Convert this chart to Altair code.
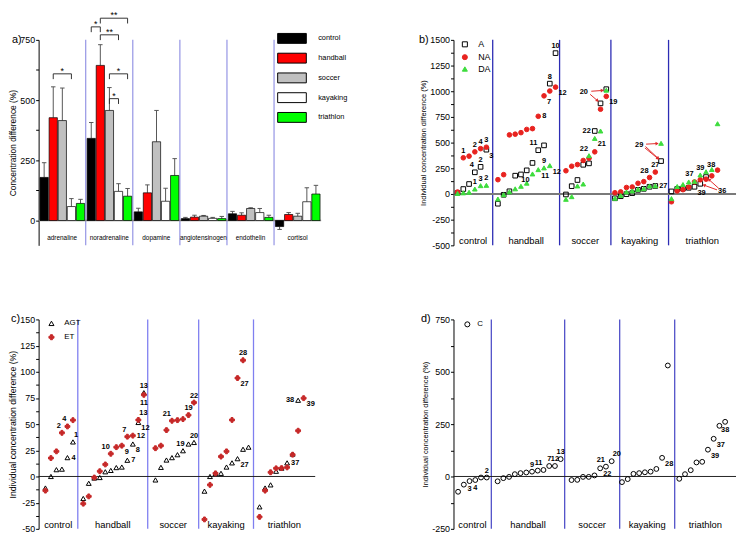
import math
import altair as alt
import pandas as pd

FONT = "Liberation Sans"

# ---------------- a) group means and SD (%) ----------------
A_CATS = ["adrenaline", "noradrenaline", "dopamine", "angiotensinogen", "endothelin", "cortisol"]
A_GROUPS = ["control", "handball", "soccer", "kayaking", "triathlon"]
A_MEAN = {
    "control":   [179, 341, 36, 8, 28, -25],
    "handball":  [427, 644, 115, 14, 22, 25],
    "soccer":    [415, 457, 327, 18, 50, 18],
    "kayaking":  [58, 121, 80, 9, 33, 78],
    "triathlon": [71, 101, 187, 8, 13, 110],
}
A_SD = {
    "control":   [61, 66, 15, 5, 10, 12],
    "handball":  [128, 86, 33, 8, 10, 8],
    "soccer":    [135, 95, 130, 3, 3, 12],
    "kayaking":  [33, 32, 54, 4, 17, 58],
    "triathlon": [17, 32, 70, 9, 9, 36],
}
A_BRACKETS = [
    ("adrenaline", "handball", "kayaking", 609, "*"),
    ("noradrenaline", "control", "handball", 804, "*"),
    ("noradrenaline", "handball", "triathlon", 840, "**"),
    ("noradrenaline", "handball", "kayaking", 771, "**"),
    ("noradrenaline", "soccer", "triathlon", 609, "*"),
    ("noradrenaline", "soccer", "kayaking", 506, "*"),
]

# ---------------- b) individual A / NA / DA ----------------
GROUP_NAMES = ["control", "handball", "soccer", "kayaking", "triathlon"]
B_A = [
    [10, 48, 97, 211, 264, 431],
    [-95, -8, 26, 178, 190, 230, 302, 426, 473, 1074, 1371],
    [-5, 76, 136, 284, 298, 613, 882, 1020],
    [-42, -22, -2, 8, 40, 50, 70, 78, 320],
    [25, 49, 52, 60, 70, 99, 165],
]
B_NA = [
    [19, 352, 368, 410, 441, 455],
    [139, 188, 575, 582, 597, 628, 636, 756, 955, 1002, 1040],
    [226, 270, 286, 326, 348, 410, 825, 950],
    [12, 20, 63, 68, 104, 120, 160, 213],
    [-76, 30, 42, 67, 117, 138, 144, 176, 232],
]
B_DA = [
    [5, 11, 17, 48, 81, 84],
    [-49, -7, 21, 50, 75, 105, 195, 237, 254, 276],
    [-52, -26, 78, 97, 373, 541, 613, 1010],
    [-42, -15, 20, 30, 45, 52, 78, 80, 493],
    [-45, 73, 92, 117, 123, 185, 216, 238, 684],
]
B_NOTES = [
    ("NA", 0, 1, "1", "a"), ("NA", 0, 3, "2", "a"), ("NA", 0, 4, "4", "a"), ("NA", 0, 5, "3", "a"),
    ("A", 0, 3, "4", "al"), ("A", 0, 4, "2", "a"), ("A", 0, 5, "3", "br"),
    ("DA", 0, 3, "1", "a"), ("DA", 0, 4, "3", "a"), ("DA", 0, 5, "2", "a"),
    ("A", 1, 7, "11", "al"), ("A", 1, 9, "8", "a"), ("A", 1, 10, "10", "a"),
    ("NA", 1, 7, "8", "r"), ("NA", 1, 8, "7", "br"), ("NA", 1, 10, "12", "br"),
    ("DA", 1, 6, "10", "bl"), ("DA", 1, 7, "11", "br"), ("DA", 1, 8, "9", "a"), ("DA", 1, 9, "12", "br"),
    ("NA", 2, 7, "19", "br"), ("A", 2, 5, "22", "l"), ("DA", 2, 5, "21", "br"), ("DA", 2, 4, "22", "al"),
    ("NA", 3, 6, "28", "al"), ("NA", 3, 7, "27", "a"), ("DA", 3, 7, "27", "r"),
    ("DA", 4, 4, "37", "al"), ("DA", 4, 5, "39", "a"), ("DA", 4, 6, "38", "ar"), ("A", 4, 4, "39", "br"),
]
# arrows: (label, label x, label y, arrow start x, start y, target series, group, index)
B_ARROWS = [
    ("20", 22.6, 995, 23.9, 1000, "DA", 2, 7),
    ("20", 22.6, 995, 23.7, 970, "A", 2, 6),
    ("29", 32.2, 472, 33.4, 485, "DA", 3, 8),
    ("29", 32.2, 472, 33.3, 462, "A", 3, 8),
    ("29", 32.2, 472, 33.2, 448, "A", 3, 8),
    ("36", 46.6, 24, 45.7, 40, "A", 4, 5),
    ("36", 46.6, 24, 46.0, 55, "A", 4, 6),
]

# ---------------- c) individual AGT / ET ----------------
C_AGT = [
    [-11, 0, 6.5, 7, 18, 33],
    [-21, -6.5, -1.5, -1, 4.5, 5.8, 8.5, 9, 15.5, 31, 51.6, 80],
    [-3.3, 8.7, 15.7, 18, 20.8, 24.6, 31, 32.5],
    [-14, 0, 3, 3, 9, 13, 17, 26, 28],
    [-29, -11, -8, 5, 8, 13, 21.4, 72.8],
]
C_ET = [
    [-13.5, 17.6, 24, 41.7, 47.8, 53.8],
    [-26, -19, -1, 5, 11.5, 21.7, 28, 29.4, 38, 39, 54, 78],
    [27, 29.4, 44.3, 53.2, 53.8, 54.8, 58.6, 70.6],
    [-41, -8, 3, 19, 24, 54, 94, 111],
    [-38.6, -13.5, 4, 7.8, 8, 8.7, 20.8, 43.7, 74.8],
]
C_NOTES = [
    ("ET", 0, 3, "2", "al"), ("ET", 0, 4, "4", "al"), ("AGT", 0, 5, "1", "ar"), ("AGT", 0, 4, "4", "r"),
    ("ET", 1, 5, "10", "al"), ("ET", 1, 7, "9", "br"), ("ET", 1, 8, "7", "al"), ("ET", 1, 9, "12", "r"),
    ("AGT", 1, 9, "8", "br"), ("AGT", 1, 8, "7", "r"), ("ET", 1, 10, "13", "ar"), ("AGT", 1, 10, "12", "br"),
    ("AGT", 1, 11, "13", "a"), ("ET", 1, 11, "11", "b"),
    ("ET", 2, 3, "21", "al"), ("ET", 2, 6, "19", "a"), ("ET", 2, 7, "22", "a"),
    ("AGT", 2, 6, "19", "l"), ("AGT", 2, 7, "20", "a"),
    ("ET", 3, 7, "28", "a"), ("ET", 3, 6, "27", "br"), ("AGT", 3, 6, "27", "br"),
    ("AGT", 4, 7, "38", "l"), ("ET", 4, 8, "39", "br"), ("AGT", 4, 5, "37", "r"),
]

# ---------------- d) individual C ----------------
D_C = [
    [-73, -39, -22, -17, -5, -5],
    [-23, -8, -2, 11, 16, 19, 23, 28, 31, 50, 50, 83],
    [-17, -16, -2, -2, 5, 39, 47, 73],
    [-27, -12.5, 12.5, 16, 20, 23, 36, 89, 530],
    [-11, 11, 30, 67, 70, 128, 180, 242, 261],
]
D_NOTES = [
    ("C", 0, 2, "3", "b"), ("C", 0, 3, "4", "b"), ("C", 0, 5, "2", "a"),
    ("C", 1, 6, "9", "a"), ("C", 1, 8, "11", "al"), ("C", 1, 9, "7", "a"), ("C", 1, 10, "12", "a"),
    ("C", 1, 11, "13", "a"),
    ("C", 2, 6, "21", "al"), ("C", 2, 7, "20", "ar"), ("C", 2, 5, "22", "br"),
    ("C", 3, 7, "28", "br"),
    ("C", 4, 5, "39", "br"), ("C", 4, 6, "37", "br"), ("C", 4, 8, "38", "b"),
]

# ---------------- layout constants ----------------
A_W, A_H = 286, 208
B_W, B_H = 286, 208
C_W, C_H = 280, 212
D_W, D_H = 286, 212
B_START, B_SEP, B_XMAX = [0.7, 7.7, 19.5, 28.0, 37.8], [6.8, 18.4, 27.3, 37.3], 49.0
C_START, C_SEP, C_XMAX = [1.23, 8.1, 21.2, 30.1, 40.1], [7.11, 19.8, 29.05, 39.0], 50.2
D_START, D_SEP, D_XMAX = [0.8, 7.7, 20.6, 29.4, 39.4], [6.6, 19.4, 29.0, 38.6], 49.3

POS = {
    "a": dict(dx=0, dy=-7, align="center"),
    "al": dict(dx=-1, dy=-7, align="right"),
    "ar": dict(dx=1, dy=-7, align="left"),
    "r": dict(dx=4, dy=0, align="left"),
    "br": dict(dx=3, dy=6, align="left"),
    "bl": dict(dx=-3, dy=6, align="right"),
    "b": dict(dx=0, dy=8, align="center"),
    "l": dict(dx=-4, dy=0, align="right"),
}


def lin(lo, hi):
    return alt.Scale(domain=[lo, hi], nice=False, zero=False)


def y_axis(title, lo, hi, step, every, tsize):
    vals = []
    v = lo
    while v <= hi + 1e-9:
        vals.append(v)
        v += step
    return alt.Axis(title=title, values=vals,
                    labelExpr=f"datum.value % {every} == 0 ? '' + datum.value : ''",
                    labelFontSize=9, titleFontSize=tsize, labelOverlap=False,
                    tickSize=3, labelPadding=1, titlePadding=2)


def points_df(series_map, starts):
    rows = []
    for s, groups in series_map.items():
        for g, vals in enumerate(groups):
            for i, v in enumerate(vals):
                rows.append({"series": s, "g": g, "i": i, "x": starts[g] + i, "y": v})
    return pd.DataFrame(rows)


def lookup(pts, s, g, i):
    r = pts[(pts.series == s) & (pts.g == g) & (pts.i == i)].iloc[0]
    return float(r.x), float(r.y)


def notes_layers(notes, pts, xs, ys, yax):
    rows = []
    for s, g, i, t, p in notes:
        x, y = lookup(pts, s, g, i)
        rows.append({"x": x, "y": y, "text": t, "pos": p})
    ndf = pd.DataFrame(rows)
    layers = []
    for p, kw in POS.items():
        sub = ndf[ndf.pos == p]
        if len(sub) == 0:
            continue
        layers.append(alt.Chart(sub).mark_text(baseline="middle", fontSize=7.5, fontWeight="bold",
                                               font=FONT, color="black", **kw).encode(
            x=alt.X("x:Q", scale=xs, axis=None), y=alt.Y("y:Q", scale=ys, axis=yax), text="text:N"))
    return layers


def frame_layers(seps, xmax, ylab, xs, ys, yax, sep_color, zero_color, zero_w, tag, tag_dx):
    bounds = [0] + seps + [xmax]
    mids = [(bounds[k] + bounds[k + 1]) / 2 for k in range(5)]
    sep = alt.Chart(pd.DataFrame({"x": seps})).mark_rule(color=sep_color, strokeWidth=1.3).encode(
        x=alt.X("x:Q", scale=xs, axis=None))
    zero = alt.Chart(pd.DataFrame({"y": [0]})).mark_rule(color=zero_color, strokeWidth=zero_w).encode(
        y=alt.Y("y:Q", scale=ys, axis=yax))
    cats = alt.Chart(pd.DataFrame({"x": mids, "y": [ylab] * 5, "t": GROUP_NAMES})).mark_text(
        fontSize=9.5, font=FONT, color="black", baseline="middle").encode(
        x=alt.X("x:Q", scale=xs, axis=None), y=alt.Y("y:Q", scale=ys, axis=yax), text="t:N")
    lab = alt.Chart(pd.DataFrame({"t": [tag]})).mark_text(
        x=tag_dx, y=0, align="left", baseline="middle", fontSize=11, font=FONT, color="black").encode(text="t:N")
    return [sep, zero], [cats, lab]


def small_legend(lx, ly, fsize, loff, rpad):
    return alt.Legend(title=None, orient="none", legendX=lx, legendY=ly, labelFontSize=fsize,
                      labelOffset=loff, rowPadding=rpad, padding=0, symbolSize=26, symbolStrokeWidth=1)


# ================= panel a =================
xs_a = lin(0, 6)
ys_a = lin(-103, 750)
yax_a = y_axis("Concentration difference (%)", 0, 750, 125, 250, 8.5)

rows = []
for g, cat in enumerate(A_CATS):
    for j, grp in enumerate(A_GROUPS):
        m = A_MEAN[grp][g]
        s = A_SD[grp][g]
        left = g + 0.03 + j * 0.193
        rows.append(dict(cat=cat, group=grp, x=left, x2=left + 0.175, xc=left + 0.0875,
                         cl=left + 0.04, cr=left + 0.135, y=m, y0=0, e=m + (s if m >= 0 else -s)))
bars = pd.DataFrame(rows)

hb, lg, st = [], [], []
for cat, g1, g2, lv, t in A_BRACKETS:
    c1 = bars[(bars.cat == cat) & (bars.group == g1)].xc.iloc[0]
    c2 = bars[(bars.cat == cat) & (bars.group == g2)].xc.iloc[0]
    hb.append(dict(x1=c1, x2=c2, lv=lv))
    lg.append(dict(x=c1, lv=lv, lo=lv - 22))
    lg.append(dict(x=c2, lv=lv, lo=lv - 22))
    st.append(dict(x=(c1 + c2) / 2, lv=lv, t=t))

leg_a = alt.Legend(title=None, orient="none", legendX=251, legendY=-7,
                   symbolType="M-2.9,-1H2.9V1H-2.9Z", symbolSize=100,
                   symbolStrokeColor="black", symbolStrokeWidth=1,
                   labelFontSize=7.5, labelOffset=21, rowPadding=5, padding=0)

a_layers = [
    alt.Chart(pd.DataFrame({"x": [1, 2, 3, 4, 5]})).mark_rule(color="#9494e4", strokeWidth=1.2).encode(
        x=alt.X("x:Q", scale=xs_a, axis=None)),
    alt.Chart(pd.DataFrame({"y": [0]})).mark_rule(color="#8a8a8a", strokeWidth=1.5).encode(
        y=alt.Y("y:Q", scale=ys_a, axis=yax_a)),
    alt.Chart(bars).mark_rule(color="#555555", strokeWidth=1).encode(
        x=alt.X("xc:Q", scale=xs_a, axis=None), y=alt.Y("y:Q", scale=ys_a, axis=yax_a), y2="e:Q"),
    alt.Chart(bars).mark_rule(color="#555555", strokeWidth=1).encode(
        x=alt.X("cl:Q", scale=xs_a, axis=None), x2="cr:Q", y=alt.Y("e:Q", scale=ys_a, axis=yax_a)),
    alt.Chart(bars).mark_rect(stroke="black", strokeWidth=0.7).encode(
        x=alt.X("x:Q", scale=xs_a, axis=None), x2="x2:Q",
        y=alt.Y("y:Q", scale=ys_a, axis=yax_a), y2="y0:Q",
        fill=alt.Fill("group:N", scale=alt.Scale(domain=A_GROUPS,
                      range=["#000000", "#ff0000", "#c0c0c0", "#ffffff", "#00ff00"]), legend=leg_a)),
    alt.Chart(pd.DataFrame(hb)).mark_rule(color="#333333", strokeWidth=1).encode(
        x=alt.X("x1:Q", scale=xs_a, axis=None), x2="x2:Q", y=alt.Y("lv:Q", scale=ys_a, axis=yax_a)),
    alt.Chart(pd.DataFrame(lg)).mark_rule(color="#333333", strokeWidth=1).encode(
        x=alt.X("x:Q", scale=xs_a, axis=None), y=alt.Y("lo:Q", scale=ys_a, axis=yax_a), y2="lv:Q"),
    alt.Chart(pd.DataFrame(st)).mark_text(fontSize=9, font=FONT, dy=-3, baseline="middle", color="black").encode(
        x=alt.X("x:Q", scale=xs_a, axis=None), y=alt.Y("lv:Q", scale=ys_a, axis=yax_a), text="t:N"),
    alt.Chart(pd.DataFrame({"x": [g + 0.5 for g in range(6)], "y": [-71] * 6, "t": A_CATS})).mark_text(
        fontSize=6.5, font=FONT, color="black", baseline="middle").encode(
        x=alt.X("x:Q", scale=xs_a, axis=None), y=alt.Y("y:Q", scale=ys_a, axis=yax_a), text="t:N"),
    alt.Chart(pd.DataFrame({"t": ["a)"]})).mark_text(
        x=-27, y=0, align="left", baseline="middle", fontSize=11, font=FONT, color="black").encode(text="t:N"),
]
panel_a = alt.layer(*a_layers).properties(width=A_W, height=A_H)

# ================= panel b =================
xs_b = lin(0, B_XMAX)
ys_b = lin(-500, 1500)
yax_b = y_axis("Individual concentration difference (%)", -500, 1500, 125, 250, 7.5)
pts_b = points_df({"A": B_A, "NA": B_NA, "DA": B_DA}, B_START)
dom_b = ["A", "NA", "DA"]
leg_b = small_legend(7, 0, 9, 9, 2)
back_b, front_b = frame_layers(B_SEP, B_XMAX, -458, xs_b, ys_b, yax_b, "#2c2cb4", "#7a7a7a", 2, "b)", -35)
pts_layer_b = alt.Chart(pts_b).mark_point(size=22, strokeWidth=1, opacity=1).encode(
    x=alt.X("x:Q", scale=xs_b, axis=None), y=alt.Y("y:Q", scale=ys_b, axis=yax_b),
    shape=alt.Shape("series:N", scale=alt.Scale(domain=dom_b, range=["square", "circle", "triangle-up"]), legend=leg_b),
    fill=alt.Fill("series:N", scale=alt.Scale(domain=dom_b, range=["transparent", "#e8231f", "#3ddc3d"]), legend=leg_b),
    stroke=alt.Stroke("series:N", scale=alt.Scale(domain=dom_b, range=["black", "#e8231f", "#3ddc3d"]), legend=leg_b),
)
pxx = B_W / B_XMAX
pxy = B_H / 2000.0
arr, heads, alabs = [], [], {}
for t, lx, ly, x0, y0, s, g, i in B_ARROWS:
    tx, ty = lookup(pts_b, s, g, i)
    dxs = (tx - x0) * pxx
    dys = -(ty - y0) * pxy
    ln = math.hypot(dxs, dys)
    f = max(0.0, (ln - 4.0) / ln)
    ex = x0 + (tx - x0) * f
    ey = y0 + (ty - y0) * f
    arr.append(dict(x=x0, y=y0, x2=ex, y2=ey))
    heads.append(dict(x=ex, y=ey, ang=math.degrees(math.atan2(dxs, -dys)) % 360))
    alabs[t] = (lx, ly)
arrow_layers = [
    alt.Chart(pd.DataFrame(arr)).mark_rule(color="#e02a2a", strokeWidth=1).encode(
        x=alt.X("x:Q", scale=xs_b, axis=None), x2="x2:Q", y=alt.Y("y:Q", scale=ys_b, axis=yax_b), y2="y2:Q"),
    alt.Chart(pd.DataFrame(heads)).mark_point(shape="triangle-up", filled=True, size=14, color="#e02a2a", opacity=1).encode(
        x=alt.X("x:Q", scale=xs_b, axis=None), y=alt.Y("y:Q", scale=ys_b, axis=yax_b),
        angle=alt.Angle("ang:Q", scale=None)),
    alt.Chart(pd.DataFrame([{"x": v[0], "y": v[1], "t": k} for k, v in alabs.items()])).mark_text(
        fontSize=7.5, fontWeight="bold", font=FONT, color="black", baseline="middle").encode(
        x=alt.X("x:Q", scale=xs_b, axis=None), y=alt.Y("y:Q", scale=ys_b, axis=yax_b), text="t:N"),
]
panel_b = alt.layer(*(back_b + [pts_layer_b] + arrow_layers + notes_layers(B_NOTES, pts_b, xs_b, ys_b, yax_b)
                      + front_b)).properties(width=B_W, height=B_H)

# ================= panel c =================
xs_c = lin(0, C_XMAX)
ys_c = lin(-50, 150)
yax_c = y_axis("Individual concentration difference (%)", -50, 150, 12.5, 25, 8.8)
pts_c = points_df({"AGT": C_AGT, "ET": C_ET}, C_START)
dom_c = ["AGT", "ET"]
leg_c = small_legend(9, 0, 8, 9, 4)
back_c, front_c = frame_layers(C_SEP, C_XMAX, -46, xs_c, ys_c, yax_c, "#7f7ff0", "#222222", 1, "c)", -28)
pts_layer_c = alt.Chart(pts_c).mark_point(size=24, strokeWidth=1, opacity=1).encode(
    x=alt.X("x:Q", scale=xs_c, axis=None), y=alt.Y("y:Q", scale=ys_c, axis=yax_c),
    shape=alt.Shape("series:N", scale=alt.Scale(domain=dom_c, range=["triangle-up", "cross"]), legend=leg_c),
    fill=alt.Fill("series:N", scale=alt.Scale(domain=dom_c, range=["transparent", "#c62828"]), legend=leg_c),
    stroke=alt.Stroke("series:N", scale=alt.Scale(domain=dom_c, range=["black", "#c62828"]), legend=leg_c),
)
panel_c = alt.layer(*(back_c + [pts_layer_c] + notes_layers(C_NOTES, pts_c, xs_c, ys_c, yax_c)
                      + front_c)).properties(width=C_W, height=C_H)

# ================= panel d =================
xs_d = lin(0, D_XMAX)
ys_d = lin(-250, 750)
yax_d = y_axis("Individual concentration difference (%)", -250, 750, 125, 250, 7.5)
pts_d = points_df({"C": D_C}, D_START)
leg_d = small_legend(10, 1, 8, 6, 2)
back_d, front_d = frame_layers(D_SEP, D_XMAX, -234, xs_d, ys_d, yax_d, "#5050c8", "#222222", 1, "d)", -33)
pts_layer_d = alt.Chart(pts_d).mark_point(size=24, strokeWidth=1, opacity=1).encode(
    x=alt.X("x:Q", scale=xs_d, axis=None), y=alt.Y("y:Q", scale=ys_d, axis=yax_d),
    shape=alt.Shape("series:N", scale=alt.Scale(domain=["C"], range=["circle"]), legend=leg_d),
    fill=alt.Fill("series:N", scale=alt.Scale(domain=["C"], range=["transparent"]), legend=leg_d),
    stroke=alt.Stroke("series:N", scale=alt.Scale(domain=["C"], range=["black"]), legend=leg_d),
)
panel_d = alt.layer(*(back_d + [pts_layer_d] + notes_layers(D_NOTES, pts_d, xs_d, ys_d, yax_d)
                      + front_d)).properties(width=D_W, height=D_H)

chart = alt.concat(panel_a, panel_b, panel_c, panel_d, columns=2,
                   spacing={"row": 64, "column": 72}).resolve_scale(
    x="independent", y="independent", fill="independent", shape="independent", stroke="independent"
).resolve_legend(
    fill="independent", shape="independent", stroke="independent"
).properties(
    padding={"left": 0, "top": 0, "right": 0, "bottom": 0}
).configure(font=FONT).configure_view(stroke=None).configure_axis(
    grid=False, labelFont=FONT, titleFont=FONT, labelColor="black", titleColor="black",
    tickColor="black", domainColor="black", titleFontWeight="normal"
).configure_legend(labelFont=FONT, labelColor="black")

chart.save("out.html", embed_options={"renderer": "svg", "actions": False})
